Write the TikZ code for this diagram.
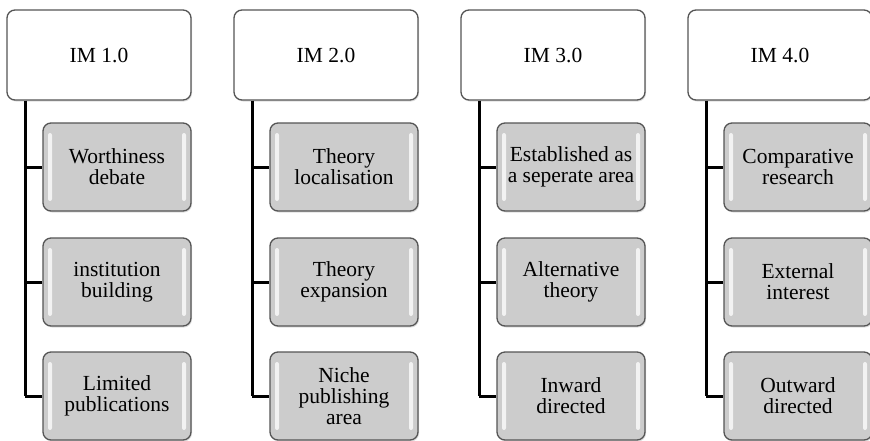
\documentclass[tikz,border=0pt]{standalone}
\usepackage{fontspec}
\setmainfont{Liberation Serif}
\usepackage{tikz}
\usetikzlibrary{positioning, shadows, calc}
\definecolor{boxgray}{RGB}{204, 204, 204}
\definecolor{edgegray}{RGB}{85, 85, 85}

\begin{document}
\begin{tikzpicture}[x=1pt, y=-1pt,
    stage/.style={draw=edgegray, line width=1.3pt, fill=white, rounded corners=8pt,
      minimum width=184pt, minimum height=90pt, inner sep=2pt,
      font=\fontsize{21.5}{23}\selectfont,
      drop shadow={shadow xshift=1pt, shadow yshift=-1.5pt, opacity=0.25}},
    item/.style={draw=edgegray, line width=1.3pt, fill=boxgray, rounded corners=8pt,
      minimum width=148pt, minimum height=88pt, inner sep=2pt, align=center,
      font=\fontsize{21.5}{21}\selectfont,
      drop shadow={shadow xshift=1pt, shadow yshift=-1.5pt, opacity=0.25},
      path picture={
        \fill[white, opacity=0.75, rounded corners=2pt]
          ($(path picture bounding box.north west)+(5pt,-10pt)$) rectangle
          ($(path picture bounding box.south west)+(9pt,10pt)$);
        \fill[white, opacity=0.75, rounded corners=2pt]
          ($(path picture bounding box.north east)+(-5pt,-10pt)$) rectangle
          ($(path picture bounding box.south east)+(-9pt,10pt)$);}},
    trunk/.style={line width=3pt, black}]
  \useasboundingbox (0,0) rectangle (870,440);

  % IM 1.0
  \node[stage] (im1) at (99, 55) {IM 1.0};
  \node[item] (worth) at (117, 167) {Worthiness\\debate};
  \node[item] (inst)  at (117, 282) {institution\\building};
  \node[item] (limit) at (117, 396) {Limited\\publications};
  \coordinate (t1) at (25, 396);
  \draw[trunk] (im1.south -| t1) -- (t1);
  \draw[trunk] (t1 |- worth) -- (worth);
  \draw[trunk] (t1 |- inst) -- (inst);
  \draw[trunk] (t1) -- (limit);

  % IM 2.0
  \node[stage] (im2) at (326, 55) {IM 2.0};
  \node[item] (loc)   at (344, 167) {Theory\\localisation};
  \node[item] (expan) at (344, 282) {Theory\\expansion};
  \node[item] (niche) at (344, 396) {Niche\\publishing\\area};
  \coordinate (t2) at (252, 396);
  \draw[trunk] (im2.south -| t2) -- (t2);
  \draw[trunk] (t2 |- loc) -- (loc);
  \draw[trunk] (t2 |- expan) -- (expan);
  \draw[trunk] (t2) -- (niche);

  % IM 3.0
  \node[stage] (im3) at (553, 55) {IM 3.0};
  \node[item] (estab) at (571, 167) {Established as\\a seperate area};
  \node[item] (alter) at (571, 282) {Alternative\\theory};
  \node[item] (inward) at (571, 396) {Inward\\directed};
  \coordinate (t3) at (479, 396);
  \draw[trunk] (im3.south -| t3) -- (t3);
  \draw[trunk] (t3 |- estab) -- (estab);
  \draw[trunk] (t3 |- alter) -- (alter);
  \draw[trunk] (t3) -- (inward);

  % IM 4.0
  \node[stage] (im4) at (780, 55) {IM 4.0};
  \node[item] (compar) at (798, 167) {Comparative\\research};
  \node[item] (extern) at (798, 282) {External\\interest};
  \node[item] (outward) at (798, 396) {Outward\\directed};
  \coordinate (t4) at (706, 396);
  \draw[trunk] (im4.south -| t4) -- (t4);
  \draw[trunk] (t4 |- compar) -- (compar);
  \draw[trunk] (t4 |- extern) -- (extern);
  \draw[trunk] (t4) -- (outward);
\end{tikzpicture}
\end{document}
